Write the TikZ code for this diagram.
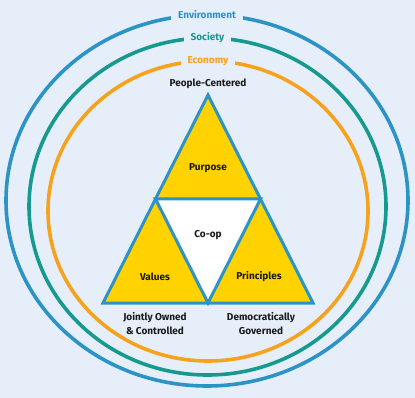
\documentclass[tikz,border=0pt]{standalone}
\usepackage{fontspec}
\setmainfont{Fira Sans}
\usetikzlibrary{calc}
\definecolor{bgc}{HTML}{E6EFF9}
\definecolor{envc}{HTML}{2C93C7}
\definecolor{socc}{HTML}{16998F}
\definecolor{ecoc}{HTML}{F7A21C}
\definecolor{yelc}{HTML}{FFD200}
\definecolor{txtc}{HTML}{1A1A1A}
\tikzset{
  ring/.style={line width=3.6pt},
  ringlabel/.style={fill=bgc, inner xsep=7pt, inner ysep=4pt, font=\fontsize{10}{12}\selectfont\bfseries},
  lbl/.style={text=txtc, font=\fontsize{10}{14}\selectfont\bfseries, align=center, inner sep=1pt},
  tri/.style={draw=envc, line width=3pt, line join=miter},
}
\begin{document}
\begin{tikzpicture}[x=1pt,y=-1pt]
\fill[bgc] (0,0) rectangle (415,398);
\useasboundingbox (0,0) rectangle (415,398);
% rings
\draw[ring, envc] (207,200.5) ellipse [x radius=201pt, y radius=185.5pt];
\draw[ring, socc] (207.5,206.5) ellipse [x radius=178.5pt, y radius=168.5pt];
\draw[ring, ecoc] (208,211) ellipse [x radius=160pt, y radius=150pt];
\node[ringlabel, text=envc] (env) at (207,14.5) {Environment};
\node[ringlabel, text=socc] (soc) at (207.5,37.5) {Society};
\node[ringlabel, text=ecoc] (eco) at (208,61) {Economy};
% triangle
\coordinate (A) at (208,95);
\coordinate (B) at (103,303);
\coordinate (C) at (313,303);
\coordinate (AB) at ($(A)!0.5!(B)$);
\coordinate (AC) at ($(A)!0.5!(C)$);
\coordinate (BC) at ($(B)!0.5!(C)$);
\filldraw[tri, fill=yelc] (A) -- (B) -- (C) -- cycle;
\filldraw[tri, fill=white] (AB) -- (AC) -- (BC) -- cycle;
% labels
\node[lbl] (pc) at (208,84) {People-Centered};
\node[lbl] (pur) at (208,168) {Purpose};
\node[lbl] (coop) at (208,235) {Co-op};
\node[lbl] (val) at (155,277) {Values};
\node[lbl] (pri) at (259,277) {Principles};
\node[lbl] (jo) at (155,324) {Jointly Owned\\\& Controlled};
\node[lbl] (dg) at (261,324) {Democratically\\Governed};
\end{tikzpicture}
\end{document}
